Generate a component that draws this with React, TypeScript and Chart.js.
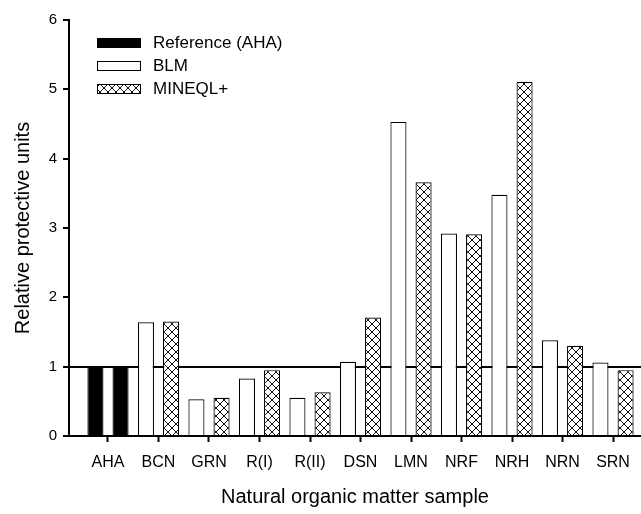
import React, { useEffect, useRef } from "react";
import { Chart, registerables } from "chart.js";

Chart.register(...registerables);

const categories = ["AHA", "BCN", "GRN", "R(I)", "R(II)", "DSN", "LMN", "NRF", "NRH", "NRN", "SRN"];
const blmValues = [1.0, 1.64, 0.53, 0.83, 0.55, 1.07, 4.53, 2.92, 3.48, 1.38, 1.06];
const mineqlValues = [1.0, 1.65, 0.55, 0.95, 0.63, 1.71, 3.66, 2.91, 5.11, 1.3, 0.95];
const referenceCategory = "AHA";
const yTicks = [0, 1, 2, 3, 4, 5, 6];
const referenceLineValue = 1;
const legendLabels = ["Reference (AHA)", "BLM", "MINEQL+"];

const FONT = "'Liberation Sans', Arial, sans-serif";

function makeHatch(): CanvasPattern | string {
  const c = document.createElement("canvas");
  c.width = 8;
  c.height = 8;
  const g = c.getContext("2d");
  if (!g) return "#fff";
  g.fillStyle = "#fff";
  g.fillRect(0, 0, 8, 8);
  g.strokeStyle = "#111";
  g.lineWidth = 1;
  g.beginPath();
  g.moveTo(0, 0);
  g.lineTo(8, 8);
  g.moveTo(8, 0);
  g.lineTo(0, 8);
  g.stroke();
  const p = g.createPattern(c, "repeat");
  return p || "#fff";
}

export default function App() {
  const ref = useRef<HTMLCanvasElement | null>(null);

  useEffect(() => {
    if (!ref.current) return;
    const hatch = makeHatch();
    const refIdx = categories.indexOf(referenceCategory);
    const blmFill = categories.map((_, i) => (i === refIdx ? "#000" : "#fff"));
    const minFill = categories.map((_, i) => (i === refIdx ? "#000" : hatch));
    const legendFills: any[] = ["#000", "#fff", hatch];

    const legendPlugin = {
      id: "insideLegend",
      afterDraw(chart: any) {
        const { ctx, chartArea } = chart;
        ctx.save();
        const x0 = chartArea.left + 28;
        const y0 = chartArea.top + 23;
        legendLabels.forEach((lab, i) => {
          const cy = y0 + i * 23;
          ctx.fillStyle = legendFills[i];
          ctx.fillRect(x0, cy - 5, 44, 10);
          ctx.strokeStyle = "#000";
          ctx.lineWidth = 1;
          ctx.strokeRect(x0 + 0.5, cy - 4.5, 43, 9);
          ctx.fillStyle = "#000";
          ctx.font = `17px ${FONT}`;
          ctx.textBaseline = "middle";
          ctx.textAlign = "left";
          ctx.fillText(lab, x0 + 56, cy);
        });
        ctx.restore();
      },
    };

    const chart = new Chart(ref.current, {
      type: "bar",
      data: {
        datasets: [
          {
            label: "BLM",
            data: categories.map((_, i) => ({ x: i, y: blmValues[i] })) as any,
            backgroundColor: blmFill as any,
            borderColor: "#000",
            borderWidth: 1.2,
            categoryPercentage: 0.995,
            barPercentage: 0.64,
          },
          {
            label: "MINEQL+",
            data: categories.map((_, i) => ({ x: i, y: mineqlValues[i] })) as any,
            backgroundColor: minFill as any,
            borderColor: "#000",
            borderWidth: 1.2,
            categoryPercentage: 0.995,
            barPercentage: 0.64,
          },
        ],
      },
      options: {
        animation: false,
        responsive: false,
        layout: { padding: { top: 20, right: 0, left: 0, bottom: 0 } },
        plugins: {
          legend: { display: false },
          tooltip: { enabled: false },
        },
        scales: {
          x: {
            type: "linear",
            offset: false,
            min: -0.772,
            max: 10.554,
            afterBuildTicks: (s: any) => {
              s.ticks = categories.map((_, i) => ({ value: i }));
            },
            afterFit: (s: any) => {
              s.height = 78;
              s.paddingLeft = 0;
              s.paddingRight = 0;
            },
            grid: {
              display: true,
              offset: false,
              drawOnChartArea: false,
              drawTicks: true,
              tickLength: 6,
              tickColor: "#000",
              tickWidth: 2,
            },
            border: { display: true, color: "#000", width: 2 },
            ticks: {
              autoSkip: false,
              maxRotation: 0,
              color: "#000",
              font: { family: FONT, size: 16 },
              padding: 11,
              callback: (v: any) => categories[v] ?? "",
            },
            title: {
              display: true,
              text: "Natural organic matter sample",
              color: "#000",
              font: { family: FONT, size: 20 },
              padding: { top: 0, bottom: 5 },
            },
          },
          y: {
            min: yTicks[0],
            max: yTicks[yTicks.length - 1],
            z: 1,
            afterBuildTicks: (s: any) => {
              s.ticks = yTicks.map((v) => ({ value: v }));
            },
            afterFit: (s: any) => {
              s.width = 69;
              s.paddingTop = 0;
              s.paddingBottom = 0;
            },
            grid: {
              display: true,
              drawOnChartArea: true,
              color: (c: any) => (c.tick && c.tick.value === referenceLineValue ? "#000" : "rgba(0,0,0,0)"),
              lineWidth: 2,
              drawTicks: true,
              tickLength: 6,
              tickColor: "#000",
              tickWidth: 2,
            },
            border: { display: true, color: "#000", width: 2 },
            ticks: {
              color: "#000",
              font: { family: FONT, size: 15 },
              padding: 6,
            },
            title: {
              display: true,
              text: "Relative protective units",
              color: "#000",
              font: { family: FONT, size: 20 },
              padding: { top: 11, bottom: 0 },
            },
          },
        },
      },
      plugins: [legendPlugin],
    });
    return () => chart.destroy();
  }, []);

  return (
    <div style={{ position: "fixed", left: 0, top: 0, width: 641, height: 514, background: "#fff" }}>
      <canvas ref={ref} width={641} height={514} />
    </div>
  );
}
